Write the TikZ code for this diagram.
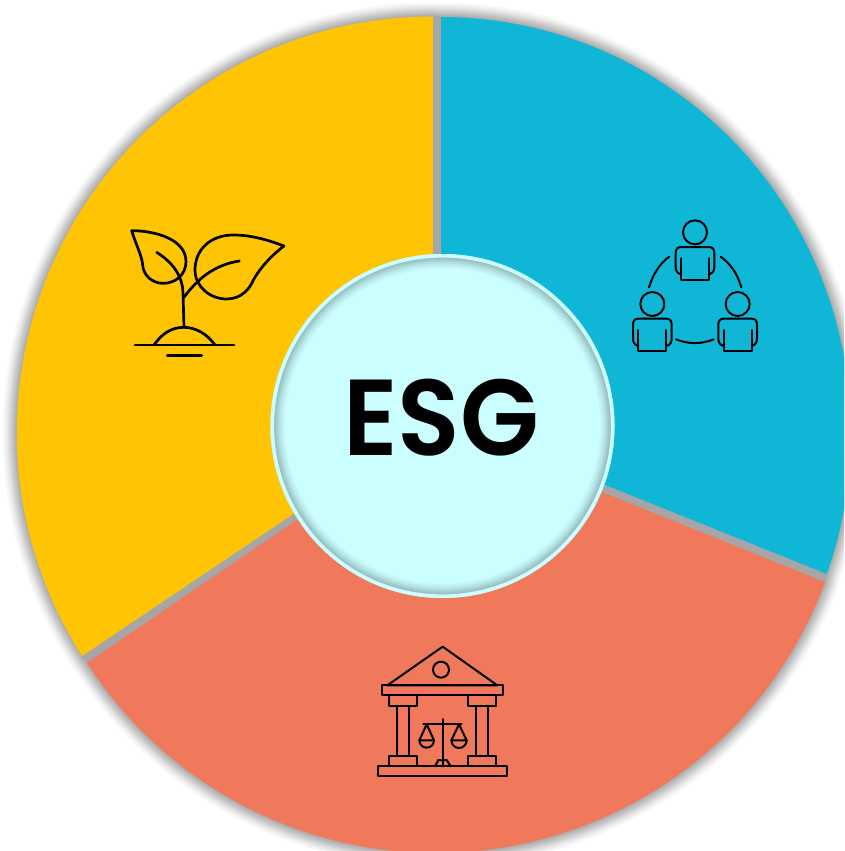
\documentclass[tikz,border=0pt]{standalone}
\usepackage{fontspec}
\newfontfamily\hubfont{Poppins SemiBold}
\definecolor{yel}{HTML}{FFC404}
\definecolor{blu}{HTML}{0FB6D6}
\definecolor{sal}{HTML}{F0795B}
\definecolor{gap}{HTML}{A6A6A6}
\definecolor{hub}{HTML}{CBFEFF}
\tikzset{
  iconthick/.style={line width=2.7pt,line cap=round,line join=round,draw=black},
  iconthin/.style={line width=2pt,line cap=round,line join=round,draw=black},
  hubdisc/.style={circle,fill=hub,draw=none,minimum size=344pt,inner sep=0pt,outer sep=0pt}
}
\newcommand{\bluearc}{(441,17) arc[start angle=-90,end angle=19.8,x radius=410,y radius=416]}
\newcommand{\salarc}{(825,582) arc[start angle=20.3,end angle=147.2,radius=415]}
\newcommand{\yelarc}{(82,656) arc[start angle=147.5,end angle=270,radius=416]}
\begin{document}
\begin{tikzpicture}[x=1pt,y=-1pt]
\useasboundingbox (0,0) rectangle (844,851);
\clip (0,0) rectangle (844,851);
% soft shadow around the pie
\foreach \w in {2,4,6,8,10,12,14,16,18,21,24,28}{
  \draw[black,opacity=0.033,line width=\w pt,line join=round]
    \bluearc -- \salarc -- \yelarc -- cycle;
}
\fill[gap] \bluearc -- \salarc -- \yelarc -- cycle;
% slices
\fill[blu] (441,419) -- \bluearc -- cycle;
\fill[sal] (436,425) -- \salarc -- cycle;
\fill[yel] (433,420) -- \yelarc -- cycle;
% plant icon
\begin{scope}[shift={(110,210)},scale=1/3]
  \draw[iconthick] (65,62) .. controls (130,62) and (228,85) .. (228,155)
    .. controls (228,195) and (195,220) .. (160,220)
    .. controls (125,220) and (100,195) .. (98,165)
    .. controls (95,135) and (80,110) .. (65,62) -- cycle;
  \draw[iconthick] (140,127) .. controls (185,155) and (218,195) .. (219,250) -- (222,350);
  \draw[iconthick] (522,108) .. controls (470,88) and (420,75) .. (370,75)
    .. controls (300,75) and (255,120) .. (255,180)
    .. controls (255,230) and (300,267) .. (350,267)
    .. controls (395,267) and (420,235) .. (430,210)
    .. controls (450,175) and (480,140) .. (522,108) -- cycle;
  \draw[iconthick] (388,153) .. controls (310,165) and (260,210) .. (222,262);
  \draw[iconthick] (132,405) .. controls (160,365) and (190,352) .. (222,352)
    .. controls (255,352) and (290,370) .. (315,405);
  \draw[iconthick] (75,405) -- (372,405);
  \draw[iconthick] (172,437) -- (275,437);
\end{scope}
% people icon
\begin{scope}[shift={(610,205)},scale=1/3]
  \foreach \px/\py in {255/82,127/297,383/297}{
    \begin{scope}[shift={(\px,\py)}]
      \draw[iconthin] (0,0) circle[radius=36];
      \draw[iconthin] (-42,126) .. controls (-55,123) and (-58,113) .. (-58,103)
        -- (-58,62) .. controls (-58,50) and (-52,44) .. (-42,44)
        -- (42,44) .. controls (52,44) and (58,50) .. (58,62)
        -- (58,103) .. controls (58,113) and (55,123) .. (42,126);
      \draw[iconthin] (-42,78) -- (-42,142) -- (42,142) -- (42,78);
    \end{scope}
  }
  \draw[iconthin] (117,247) .. controls (130,205) and (150,175) .. (178,155);
  \draw[iconthin] (332,155) .. controls (360,175) and (382,205) .. (394,247);
  \draw[iconthin] (198,403) .. controls (235,418) and (275,418) .. (311,403);
\end{scope}
% courthouse icon
\begin{scope}[shift={(360,635)},scale=1/3]
  \draw[iconthin] (248,35) -- (82,151) -- (412,151) -- cycle;
  \draw[iconthin] (243,104) circle[radius=24];
  \draw[iconthin] (67,151) rectangle (430,180);
  \draw[iconthin] (88,180) rectangle (172,212);
  \draw[iconthin] (325,180) rectangle (409,212);
  \draw[iconthin] (110,212) rectangle (148,362);
  \draw[iconthin] (347,212) rectangle (385,362);
  \draw[iconthin] (88,362) rectangle (172,394);
  \draw[iconthin] (325,362) rectangle (409,394);
  \draw[iconthin] (53,394) rectangle (442,424);
  \draw[iconthin] (248,252) -- (248,394);
  \draw[iconthin] (190,267) -- (305,267);
  \draw[iconthin] (200,268) -- (178,316) -- (222,316) -- cycle;
  \draw[iconthin] (178,316) arc[start angle=180,end angle=0,radius=22];
  \draw[iconthin] (297,268) -- (274,316) -- (320,316) -- cycle;
  \draw[iconthin] (274,316) arc[start angle=180,end angle=0,radius=23];
  \draw[iconthin] (225,394) -- (235,375) -- (260,375) -- (272,394);
\end{scope}
% hub
\node[hubdisc] (esg) at (442.5,426) {};
\begin{scope}
  \clip (esg.center) circle[radius=169];
  \foreach \w in {2,4,6,8,10,12,15,18,22}{
    \draw[black,opacity=0.03,line width=\w pt] (esg.center) circle[radius=169];
  }
\end{scope}
\draw[draw=hub,line width=3.6pt] (esg.center) circle[radius=170.2];
\node[inner sep=0pt,outer sep=0pt] (esgtext) at (441,418) {\scalebox{0.95}[1]{\fontsize{108pt}{108pt}\selectfont\hubfont ESG}};
\end{tikzpicture}
\end{document}
